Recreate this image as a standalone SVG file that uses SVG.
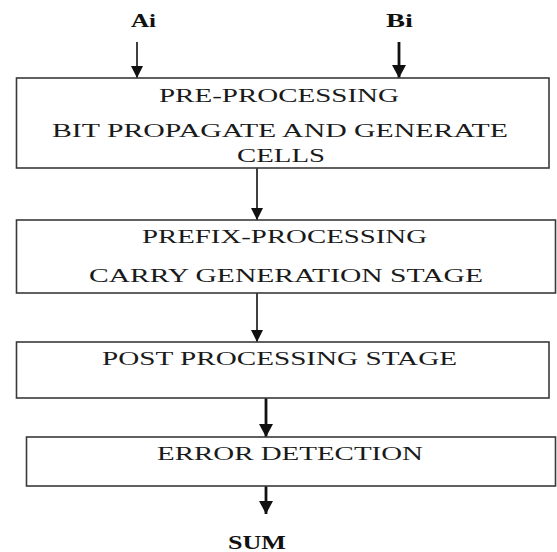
<svg xmlns="http://www.w3.org/2000/svg" width="557" height="552" viewBox="0 0 557 552">
<style>
  .box { fill: #ffffff; stroke: #3a3a3a; stroke-width: 1.6; }
  .t { font-family: "Liberation Serif", "Times New Roman", serif; font-size: 18px; fill: #1a1a1a; lengthAdjust: spacingAndGlyphs; }
  .b { font-family: "Liberation Serif", "Times New Roman", serif; font-size: 18px; font-weight: bold; fill: #111111; }
  .thin { stroke: #111111; stroke-width: 1.6; fill: none; }
  .thick { stroke: #111111; stroke-width: 2.8; fill: none; }
</style>
<defs>
  <marker id="ah" markerUnits="userSpaceOnUse" markerWidth="12" markerHeight="12" viewBox="0 0 12 12" refX="12" refY="6" orient="auto">
    <path d="M0,0 L12,6 L0,12 Z" fill="#111111"/>
  </marker>
  <marker id="ahb" markerUnits="userSpaceOnUse" markerWidth="14" markerHeight="14" viewBox="0 0 14 14" refX="13" refY="7" orient="auto">
    <path d="M0,0 L13,7 L0,14 Z" fill="#111111"/>
  </marker>
</defs>
<rect width="557" height="552" fill="#ffffff"/>

<g id="connectors">
  <line class="thin" x1="137" y1="42" x2="137" y2="78" marker-end="url(#ah)"/>
  <line class="thick" x1="399" y1="42" x2="399" y2="78" marker-end="url(#ahb)"/>
  <line class="thin" x1="257" y1="168" x2="257" y2="220" marker-end="url(#ah)"/>
  <line class="thin" x1="257" y1="293" x2="257" y2="342" marker-end="url(#ah)"/>
  <line class="thick" x1="266" y1="398" x2="266" y2="437" marker-end="url(#ahb)"/>
  <line class="thick" x1="266" y1="486" x2="266" y2="514" marker-end="url(#ahb)"/>
</g>

<g id="input-ai">
  <text class="b" x="131" y="27" textLength="25" lengthAdjust="spacingAndGlyphs">Ai</text>
</g>
<g id="input-bi">
  <text class="b" x="386" y="27" textLength="27" lengthAdjust="spacingAndGlyphs">Bi</text>
</g>

<g id="pre-processing">
  <rect class="box" x="16.5" y="78" width="532.5" height="90"/>
  <text class="t" x="159" y="102" textLength="240" lengthAdjust="spacingAndGlyphs">PRE-PROCESSING</text>
  <text class="t" x="52" y="137" textLength="456" lengthAdjust="spacingAndGlyphs">BIT PROPAGATE AND GENERATE</text>
  <text class="t" x="237" y="162" textLength="88" lengthAdjust="spacingAndGlyphs">CELLS</text>
</g>

<g id="prefix-processing">
  <rect class="box" x="16.5" y="220" width="539" height="73"/>
  <text class="t" x="142" y="243" textLength="285" lengthAdjust="spacingAndGlyphs">PREFIX-PROCESSING</text>
  <text class="t" x="89" y="282" textLength="394" lengthAdjust="spacingAndGlyphs">CARRY GENERATION STAGE</text>
</g>

<g id="post-processing">
  <rect class="box" x="16.5" y="342" width="532.5" height="56"/>
  <text class="t" x="102" y="365" textLength="355" lengthAdjust="spacingAndGlyphs">POST PROCESSING STAGE</text>
</g>

<g id="error-detection">
  <rect class="box" x="26.5" y="437" width="529" height="49"/>
  <text class="t" x="157" y="460" textLength="266" lengthAdjust="spacingAndGlyphs">ERROR DETECTION</text>
</g>

<g id="output-sum">
  <text class="b" x="228" y="549" textLength="58" lengthAdjust="spacingAndGlyphs">SUM</text>
</g>
</svg>
